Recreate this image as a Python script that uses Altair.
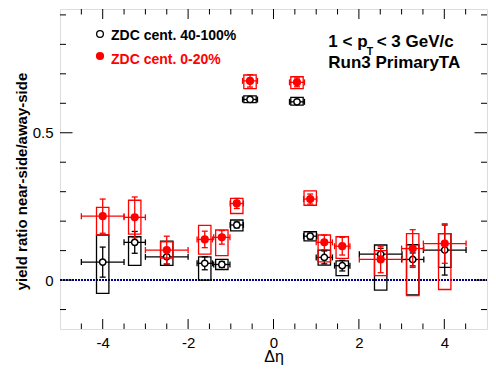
import altair as alt
import pandas as pd

# ---- data ----
x_bins = [-4.0, -3.25, -2.5, -1.61, -1.21, -0.86, -0.55, 0.55, 0.86, 1.19, 1.61, 2.51, 3.26, 4.01]
x_err = [0.5, 0.25, 0.5, 0.18, 0.19, 0.155, 0.175, 0.175, 0.155, 0.19, 0.18, 0.5, 0.26, 0.5]
box_half = 0.145

# ZDC cent. 40-100% (open black)
per_y = [0.061, 0.128, 0.079, 0.057, 0.053, 0.187, 0.613, 0.605, 0.149, 0.077, 0.049, 0.088, 0.070, 0.102]
per_stat = [0.051, 0.037, 0.025, 0.022, 0.010, 0.010, 0.008, 0.008, 0.010, 0.022, 0.018, 0.020, 0.022, 0.085]
per_sys_hi = [0.153, 0.147, 0.132, 0.079, 0.070, 0.204, 0.625, 0.620, 0.164, 0.102, 0.065, 0.119, 0.120, 0.158]
per_sys_lo = [-0.045, 0.050, 0.050, 0.000, 0.036, 0.167, 0.602, 0.594, 0.133, 0.051, 0.015, -0.034, -0.050, 0.043]

# ZDC cent. 0-20% (filled red)
cen_y = [0.217, 0.213, 0.102, 0.138, 0.145, 0.260, 0.676, 0.671, 0.275, 0.128, 0.115, 0.070, 0.107, 0.124]
cen_stat = [0.058, 0.069, 0.047, 0.028, 0.023, 0.017, 0.021, 0.015, 0.017, 0.025, 0.030, 0.045, 0.064, 0.067]
cen_sys_hi = [0.247, 0.271, 0.130, 0.186, 0.170, 0.277, 0.696, 0.690, 0.303, 0.153, 0.147, 0.100, 0.158, 0.158]
cen_sys_lo = [0.153, 0.156, 0.075, 0.088, 0.083, 0.226, 0.650, 0.650, 0.254, 0.062, 0.074, 0.015, -0.053, -0.032]

xt_major = [-4, -2, 0, 2, 4]
xt_minor = [-4.5, -3.5, -3, -2.5, -1.5, -1, -0.5, 0.5, 1, 1.5, 2.5, 3, 3.5, 4.5]
yt_major = [0, 0.5]
yt_minor = [-0.1, 0.1, 0.2, 0.3, 0.4, 0.6, 0.7, 0.8, 0.9]

W, H = 427, 320
FONT = "Liberation Sans"
NAVY = "#00008f"
RED = "#ff0000"

xs = alt.Scale(domain=[-5, 5], nice=False, zero=False)
ys = alt.Scale(domain=[-0.166, 0.92], nice=False, zero=False)
xaxis = alt.Axis(values=xt_major, labelExpr="'' + datum.value", ticks=False, domain=False,
                 grid=False, labelPadding=6, labelFontSize=15, labelFont=FONT, labelColor="black",
                 title="Δη", titleFont=FONT, titleFontSize=16, titleFontWeight="normal",
                 titleBaseline="alphabetic", titleY=32.5, titleColor="black")
yaxis = alt.Axis(values=yt_major, labelExpr="'' + datum.value", ticks=False, domain=False,
                 grid=False, labelPadding=7, labelFontSize=15, labelFont=FONT, labelColor="black",
                 title="yield ratio near-side/away-side", titleFont=FONT, titleFontSize=15,
                 titleFontWeight="bold", titleAngle=-90, titleBaseline="alphabetic",
                 titleX=-34, titleY=172, titleAlign="center", titleColor="black")


def X(f):
    return alt.X(f, type="quantitative", scale=xs, axis=xaxis)


def Y(f):
    return alt.Y(f, type="quantitative", scale=ys, axis=yaxis)


def make_df(y, stat, hi, lo):
    return pd.DataFrame({
        "x": x_bins,
        "xlo": [a - b for a, b in zip(x_bins, x_err)],
        "xhi": [a + b for a, b in zip(x_bins, x_err)],
        "blo": [a - box_half for a in x_bins],
        "bhi": [a + box_half for a in x_bins],
        "y": y,
        "ylo": [a - b for a, b in zip(y, stat)],
        "yhi": [a + b for a, b in zip(y, stat)],
        "slo": lo,
        "shi": hi,
    })


def series(df, color, fill, size):
    base = alt.Chart(df)
    sw = 1.3
    box = base.mark_rect(fillOpacity=0, stroke=color, strokeWidth=sw).encode(
        x=X("blo"), x2="bhi", y=Y("slo"), y2="shi")
    ybar = base.mark_rule(color=color, strokeWidth=sw).encode(x=X("x"), y=Y("ylo"), y2="yhi")
    xbar = base.mark_rule(color=color, strokeWidth=sw).encode(x=X("xlo"), x2="xhi", y=Y("y"))
    cap1 = base.mark_rule(color=color, strokeWidth=sw, xOffset=-3, x2Offset=3).encode(
        x=X("x"), x2="x", y=Y("ylo"))
    cap2 = base.mark_rule(color=color, strokeWidth=sw, xOffset=-3, x2Offset=3).encode(
        x=X("x"), x2="x", y=Y("yhi"))
    cap3 = base.mark_rule(color=color, strokeWidth=sw, yOffset=-3, y2Offset=3).encode(
        x=X("xlo"), y=Y("y"), y2="y")
    cap4 = base.mark_rule(color=color, strokeWidth=sw, yOffset=-3, y2Offset=3).encode(
        x=X("xhi"), y=Y("y"), y2="y")
    pts = base.mark_point(shape="circle", filled=True, fill=fill, stroke=color,
                          strokeWidth=1.5, size=size, opacity=1).encode(x=X("x"), y=Y("y"))
    return [box, ybar, xbar, cap1, cap2, cap3, cap4, pts]


per_df = make_df(per_y, per_stat, per_sys_hi, per_sys_lo)
cen_df = make_df(cen_y, cen_stat, cen_sys_hi, cen_sys_lo)

zero = alt.Chart(pd.DataFrame({"x": [-5], "x2": [5], "y": [0]})).mark_rule(
    color=NAVY, strokeWidth=2, strokeDash=[2, 1]).encode(x=X("x"), x2="x2", y=Y("y"))

tick_layers = []
for vals, ln in [(xt_major, 10), (xt_minor, 5.5)]:
    d = alt.Chart(pd.DataFrame({"v": vals}))
    tick_layers.append(d.mark_rule(color="black").encode(x=X("v"), y=alt.value(H), y2=alt.value(H - ln)))
    tick_layers.append(d.mark_rule(color="black").encode(x=X("v"), y=alt.value(0), y2=alt.value(ln)))
for vals, ln in [(yt_major, 12.5), (yt_minor, 6)]:
    d = alt.Chart(pd.DataFrame({"v": vals}))
    tick_layers.append(d.mark_rule(color="black").encode(y=Y("v"), x=alt.value(0), x2=alt.value(ln)))
    tick_layers.append(d.mark_rule(color="black").encode(y=Y("v"), x=alt.value(W), x2=alt.value(W - ln)))


def txt(s, px, py, size, color="black", weight="bold", align="left"):
    return alt.Chart(pd.DataFrame({"t": [s]})).mark_text(
        font=FONT, fontSize=size, fontWeight=weight, color=color, align=align,
        baseline="alphabetic").encode(text="t:N", x=alt.value(px), y=alt.value(py))


one = pd.DataFrame({"a": [0]})
leg_black = alt.Chart(one).mark_point(shape="circle", filled=True, fill="white", stroke="black",
                                      strokeWidth=1.3, size=45, opacity=1).encode(
    x=alt.value(40), y=alt.value(25))
leg_red = alt.Chart(one).mark_point(shape="circle", filled=True, fill=RED, stroke=RED,
                                    strokeWidth=1.5, size=45, opacity=1).encode(
    x=alt.value(40), y=alt.value(47))

texts = [
    txt("ZDC cent. 40-100%", 51, 30.5, 14),
    txt("ZDC cent. 0-20%", 51, 54.5, 14, color=RED),
    txt("1 < p", 268.3, 37.7, 17),
    txt("T", 306.7, 45.5, 10.5),
    txt("< 3 GeV/c", 316.7, 37.7, 17),
    txt("Run3 PrimaryTA", 268.3, 58.5, 17),
]

layers = [zero] + tick_layers + series(per_df, "black", "white", 40) + series(cen_df, RED, RED, 45) \
    + [leg_black, leg_red] + texts

chart = alt.layer(*layers).properties(
    width=W, height=H,
    padding={"left": 52, "top": 1, "right": 1, "bottom": 37},
    autosize=alt.AutoSizeParams(type="none"),
).configure_view(stroke="black", strokeWidth=1).configure(font=FONT, background="white")

chart.save("out.html", embed_options={"renderer": "svg", "actions": False})
